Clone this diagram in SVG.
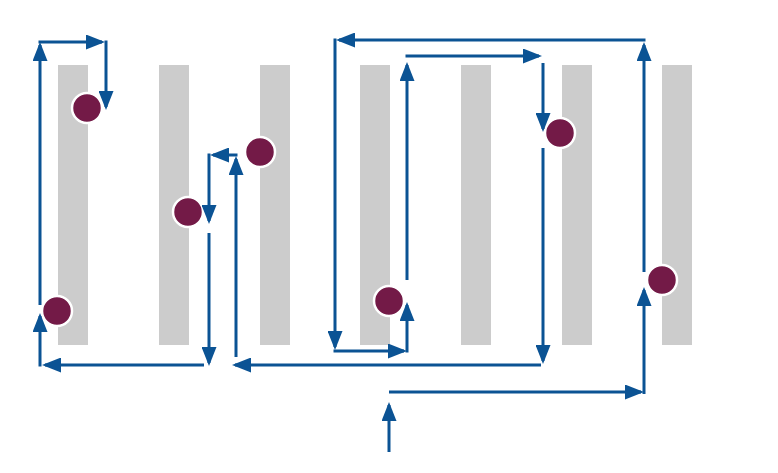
<svg xmlns="http://www.w3.org/2000/svg" width="778" height="473" viewBox="0 0 778 473">
<style>
.bar{fill:#cccccc}
.dot{fill:#731a47;stroke:#ffffff;stroke-width:2.5}
.c{stroke:#0b5394;stroke-width:3;fill:none;marker-end:url(#ah)}
</style>
<defs>
<marker id="ah" viewBox="0 0 19 15" refX="16" refY="7.5" markerWidth="19" markerHeight="15" markerUnits="userSpaceOnUse" orient="auto">
<path d="M0,0 L19,7.5 L0,15 z" fill="#0b5394"/>
</marker>
</defs>
<rect width="778" height="473" fill="#ffffff"/>
<g id="bars">
<rect id="bar1" class="bar" x="58" y="65" width="30" height="280"/>
<rect id="bar2" class="bar" x="159" y="65" width="30" height="280"/>
<rect id="bar3" class="bar" x="260" y="65" width="30" height="280"/>
<rect id="bar4" class="bar" x="360" y="65" width="30" height="280"/>
<rect id="bar5" class="bar" x="461" y="65" width="30" height="280"/>
<rect id="bar6" class="bar" x="562" y="65" width="30" height="280"/>
<rect id="bar7" class="bar" x="662" y="65" width="30" height="280"/>
</g>
<g id="dot1"><circle class="dot" cx="87" cy="108" r="15"/></g>
<g id="dot2"><circle class="dot" cx="57" cy="311" r="15"/></g>
<g id="dot3"><circle class="dot" cx="188" cy="212" r="15"/></g>
<g id="dot4"><circle class="dot" cx="260" cy="152" r="15"/></g>
<g id="dot5"><circle class="dot" cx="389" cy="301" r="15"/></g>
<g id="dot6"><circle class="dot" cx="560" cy="133" r="15"/></g>
<g id="dot7"><circle class="dot" cx="662" cy="280" r="15"/></g>
<g id="connectors">
<line class="c" x1="389" y1="452" x2="389" y2="405"/>
<line class="c" x1="389" y1="392" x2="641" y2="392"/>
<line class="c" x1="644" y1="394" x2="644" y2="290"/>
<line class="c" x1="644" y1="272" x2="644" y2="45"/>
<line class="c" x1="645.5" y1="40" x2="339" y2="40"/>
<line class="c" x1="335" y1="38.5" x2="335" y2="347"/>
<line class="c" x1="333.5" y1="351" x2="404" y2="351"/>
<line class="c" x1="407" y1="352.5" x2="407" y2="305"/>
<line class="c" x1="407" y1="280" x2="407" y2="65"/>
<line class="c" x1="405.5" y1="56" x2="539" y2="56"/>
<line class="c" x1="543" y1="63" x2="543" y2="129"/>
<line class="c" x1="543" y1="148" x2="543" y2="361"/>
<line class="c" x1="541" y1="365" x2="235" y2="365"/>
<line class="c" x1="236" y1="357" x2="236" y2="159"/>
<line class="c" x1="237.5" y1="155" x2="213" y2="155"/>
<line class="c" x1="209" y1="153.5" x2="209" y2="221"/>
<line class="c" x1="209" y1="233" x2="209" y2="363"/>
<line class="c" x1="204" y1="365" x2="45" y2="365"/>
<line class="c" x1="40" y1="366.5" x2="40" y2="316"/>
<line class="c" x1="40" y1="305" x2="40" y2="45"/>
<line class="c" x1="38.5" y1="42" x2="102" y2="42"/>
<line class="c" x1="106" y1="40.5" x2="106" y2="107"/>
</g>
</svg>
